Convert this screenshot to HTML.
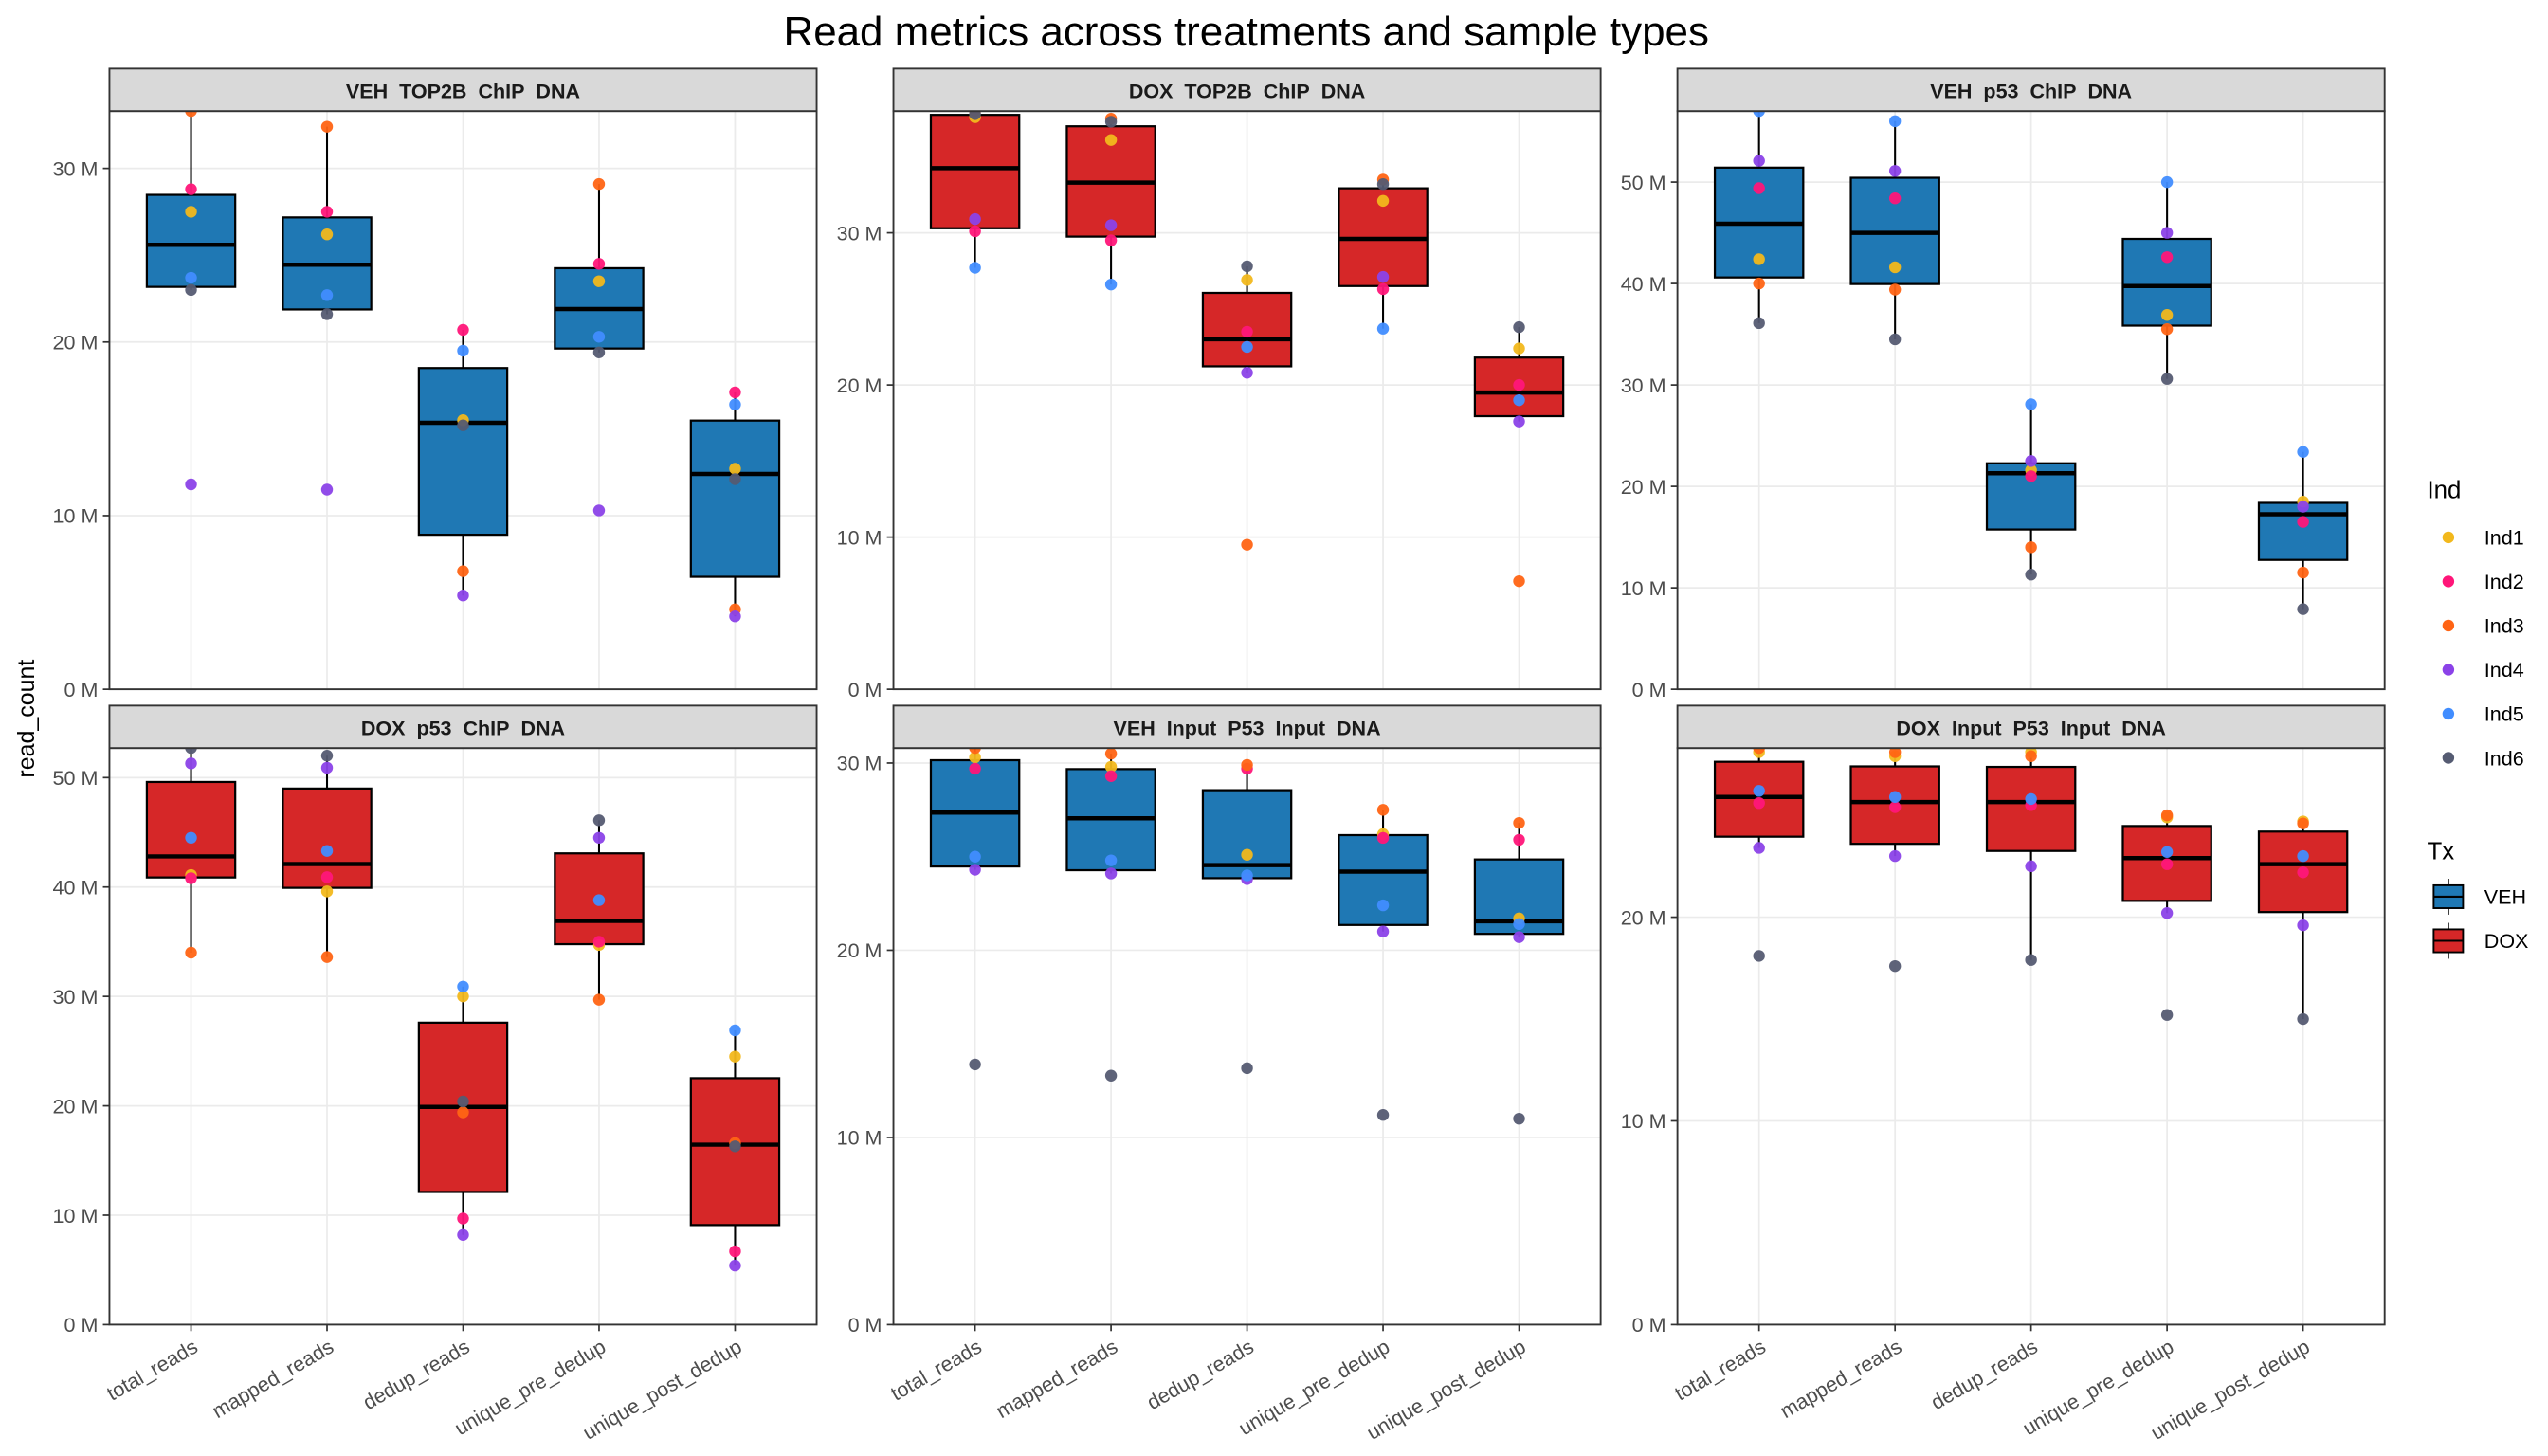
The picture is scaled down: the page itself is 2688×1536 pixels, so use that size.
<!DOCTYPE html>
<html><head><meta charset="utf-8">
<style>
html,body{margin:0;padding:0;background:#fff;}
svg{display:block;font-family:"Liberation Sans",Arial,sans-serif;}
</style></head>
<body>
<svg id="chart" width="2688" height="1536" viewBox="0 0 1560 891.43" xmlns="http://www.w3.org/2000/svg">
<rect x="0" y="0" width="1560" height="891.43" fill="#fff"/>
<text x="763" y="28" text-anchor="middle" font-size="25.5" fill="#000">Read metrics across treatments and sample types</text>
<text transform="translate(21,440) rotate(-90)" text-anchor="middle" font-size="14.5" fill="#000">read_count</text>
<g id="panels"></g>
<g id="legend"></g>
</svg>
<script>
// ---- data (millions of reads) ----
const metrics = ["total_reads","mapped_reads","dedup_reads","unique_pre_dedup","unique_post_dedup"];
const individuals = ["Ind1","Ind2","Ind3","Ind4","Ind5","Ind6"];
const panelNames = ["VEH_TOP2B_ChIP_DNA","DOX_TOP2B_ChIP_DNA","VEH_p53_ChIP_DNA","DOX_p53_ChIP_DNA","VEH_Input_P53_Input_DNA","DOX_Input_P53_Input_DNA"];
const panelTx = ["VEH","DOX","VEH","DOX","VEH","DOX"];
// each row: one metric, values for Ind1..Ind6
const vehTop2b = [
  [27.5,28.8,33.3,11.8,23.7,23.0],
  [26.2,27.5,32.4,11.5,22.7,21.6],
  [15.5,20.7,6.8,5.4,19.5,15.2],
  [23.5,24.5,29.1,10.3,20.3,19.4],
  [12.7,17.1,4.6,4.2,16.4,12.1]
];
const doxTop2b = [
  [37.6,30.1,38.0,30.9,27.7,37.8],
  [36.1,29.5,37.5,30.5,26.6,37.3],
  [26.9,23.5,9.5,20.8,22.5,27.8],
  [32.1,26.3,33.5,27.1,23.7,33.2],
  [22.4,20.0,7.1,17.6,19.0,23.8]
];
const vehP53 = [
  [42.4,49.4,40.0,52.1,57.0,36.1],
  [41.6,48.4,39.4,51.1,56.0,34.5],
  [21.6,21.0,14.0,22.5,28.1,11.3],
  [36.9,42.6,35.5,45.0,50.0,30.6],
  [18.5,16.5,11.5,18.0,23.4,7.9]
];
const doxP53 = [
  [41.1,40.8,34.0,51.3,44.5,52.7],
  [39.6,40.9,33.6,50.9,43.3,52.0],
  [30.0,9.7,19.4,8.2,30.9,20.4],
  [34.7,35.0,29.7,44.5,38.8,46.1],
  [24.5,6.7,16.6,5.4,26.9,16.3]
];
const vehInput = [
  [30.3,29.7,30.8,24.3,25.0,13.9],
  [29.8,29.3,30.5,24.1,24.8,13.3],
  [25.1,29.7,29.9,23.8,24.0,13.7],
  [26.2,26.0,27.5,21.0,22.4,11.2],
  [21.7,25.9,26.8,20.7,21.4,11.0]
];
const doxInput = [
  [28.1,25.6,28.3,23.4,26.2,18.1],
  [27.9,25.4,28.1,23.0,25.9,17.6],
  [28.1,25.5,27.9,22.5,25.8,17.9],
  [24.9,22.6,25.0,20.2,23.2,15.2],
  [24.7,22.2,24.6,19.6,23.0,15.0]
];
const panelData = [vehTop2b, doxTop2b, vehP53, doxP53, vehInput, doxInput];
const tickStep = 10;

// ---- styles ----
const txFill = {VEH:"#1F78B4", DOX:"#D62728"};
const indColor = ["#F2B81C","#FF1679","#FF6414","#8B42E8","#418DFF","#555B72"];
const NS = "http://www.w3.org/2000/svg";
function mk(tag, attrs, parent){
  const e = document.createElementNS(NS, tag);
  for (const k in attrs) e.setAttribute(k, attrs[k]);
  if (parent) parent.appendChild(e);
  return e;
}
function quant(sorted, p){
  const h = (sorted.length-1)*p, lo = Math.floor(h), hi = Math.ceil(h);
  return sorted[lo] + (h-lo)*(sorted[hi]-sorted[lo]);
}
const colX = [67,547,1027], panelW = 433;
const rowTop = [42,432], stripH = 26, plotH = [354,353];
const panelsG = document.getElementById('panels');

panelData.forEach((data, pi) => {
  const col = pi % 3, row = Math.floor(pi/3);
  const x0 = colX[col], sy = rowTop[row], y0 = sy + stripH, h = plotH[row];
  const g = mk('g', {}, panelsG);
  
  
  let ymax = 0;
  data.forEach(r => r.forEach(v => { if (v > ymax) ymax = v; }));
  const yS = v => y0 + h - v / ymax * h;
  const step = panelW / (metrics.length + 0.2);
  const xS = i => x0 + step * (0.6 + i);
  for (let t = 0; t <= ymax + 1e-9; t += tickStep) {
    const gl = mk('line', {x1:x0, x2:x0+panelW, y1:yS(t), y2:yS(t), stroke:"#EBEBEB", 'stroke-width':1}, g);
    
    
    const tk = mk('line', {x1:x0-4, x2:x0, y1:yS(t), y2:yS(t), stroke:"#333", 'stroke-width':1}, g);
    
    
    const tl = mk('text', {x:x0-7, y:yS(t)+4.5, 'text-anchor':'end', 'font-size':12.5, fill:'#4D4D4D'}, g);
    
    
    tl.textContent = t + " M";
  }
  metrics.forEach((m, i) => {
    const vl = mk('line', {x1:xS(i), x2:xS(i), y1:y0, y2:y0+h, stroke:"#EBEBEB", 'stroke-width':1}, g);
    
    
  });
  const bw = step * 0.65;
  data.forEach((vals, i) => {
    const s = vals.slice().sort((a,b)=>a-b);
    const q1 = quant(s,0.25), med = quant(s,0.5), q3 = quant(s,0.75), iqr = q3-q1;
    const lo = s.filter(v => v >= q1 - 1.5*iqr)[0];
    const hiArr = s.filter(v => v <= q3 + 1.5*iqr), hi = hiArr[hiArr.length-1];
    const bg = mk('g', {}, g);
    
    
    mk('line', {x1:xS(i), x2:xS(i), y1:yS(hi), y2:yS(q3), stroke:'#000', 'stroke-width':1.2}, bg);
    mk('line', {x1:xS(i), x2:xS(i), y1:yS(q1), y2:yS(lo), stroke:'#000', 'stroke-width':1.2}, bg);
    mk('rect', {x:xS(i)-bw/2, y:yS(q3), width:bw, height:yS(q1)-yS(q3), fill:txFill[panelTx[pi]], stroke:'#000', 'stroke-width':1.3}, bg);
    mk('line', {x1:xS(i)-bw/2, x2:xS(i)+bw/2, y1:yS(med), y2:yS(med), stroke:'#000', 'stroke-width':2.6}, bg);
  });
  data.forEach((vals, i) => {
    vals.forEach((v, k) => {
      const c = mk('circle', {cx:xS(i), cy:yS(v), r:3.6, fill:indColor[k], 'fill-opacity':0.95}, g);
      
      
    });
  });
  mk('rect', {x:x0, y:y0, width:panelW, height:h, fill:'none', stroke:'#333', 'stroke-width':1.1}, g);
  const st = mk('rect', {x:x0, y:sy, width:panelW, height:stripH, fill:'#D9D9D9', stroke:'#333', 'stroke-width':1.1}, g);
  
  
  const sl = mk('text', {x:x0+panelW/2, y:sy+18, 'text-anchor':'middle', 'font-size':12.5, 'font-weight':'bold', fill:'#1A1A1A'}, g);
  
  
  sl.textContent = panelNames[pi];
  if (row === 1) {
    metrics.forEach((m, i) => {
      mk('line', {x1:xS(i), x2:xS(i), y1:y0+h, y2:y0+h+4, stroke:'#333', 'stroke-width':1}, g);
      const xt = mk('text', {'text-anchor':'end', 'font-size':12.5, fill:'#4D4D4D',
        transform:`translate(${xS(i)+5},${y0+h+16}) rotate(-30)`}, g);
      
      
      xt.textContent = m;
    });
  }
});

const lg = document.getElementById('legend');
const indTitle = mk('text', {x:1486, y:305, 'font-size':15, fill:'#000'}, lg);


indTitle.textContent = "Ind";
individuals.forEach((n, k) => {
  const y = 329 + k*27;
  const e = mk('g', {}, lg);
  
  
  mk('circle', {cx:1499, cy:y, r:3.6, fill:indColor[k]}, e);
  const t = mk('text', {x:1521, y:y+4.5, 'font-size':12.5, fill:'#000'}, e);
  t.textContent = n;
});
const txTitle = mk('text', {x:1486, y:526, 'font-size':15, fill:'#000'}, lg);


txTitle.textContent = "Tx";
["VEH","DOX"].forEach((n, k) => {
  const y = 549 + k*27;
  const e = mk('g', {}, lg);
  
  
  mk('line', {x1:1499, x2:1499, y1:y-11, y2:y+11, stroke:'#000', 'stroke-width':1}, e);
  mk('rect', {x:1490, y:y-7, width:18, height:14, fill:txFill[n], stroke:'#000', 'stroke-width':1.1}, e);
  mk('line', {x1:1490, x2:1508, y1:y, y2:y, stroke:'#000', 'stroke-width':1.2}, e);
  const t = mk('text', {x:1521, y:y+4.5, 'font-size':12.5, fill:'#000'}, e);
  t.textContent = n;
});
</script>
</body></html>
